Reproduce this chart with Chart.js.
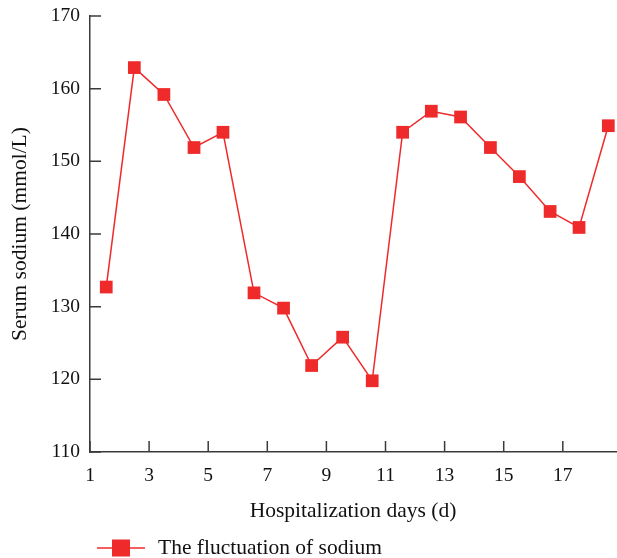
<!DOCTYPE html>
<html>
<head>
<meta charset="utf-8">
<script src="https://cdn.jsdelivr.net/npm/chart.js@4"></script>
<style>
  html, body { margin: 0; padding: 0; background: #fff; }
  #wrap { width: 617px; height: 558px; }
</style>
</head>
<body>
<div id="wrap"><canvas id="chart1"></canvas></div>
<script>
// hospitalization day positions and serum sodium readings
const days = [1.55, 2.5, 3.5, 4.52, 5.5, 6.55, 7.55, 8.5, 9.55, 10.55, 11.58, 12.55, 13.54, 14.55, 15.53, 16.57, 17.55, 18.54];
const sodium = [132.7, 162.9, 159.2, 151.9, 154, 131.9, 129.8, 121.9, 125.8, 119.8, 154, 156.9, 156.1, 151.9, 147.9, 143.1, 140.9, 154.9];
const xTicks = [1, 3, 5, 7, 9, 11, 13, 15, 17];
const yTicks = [110, 120, 130, 140, 150, 160, 170];

const seriesLabel = 'The fluctuation of sodium';
const red = '#ee2a2a';
const axisColor = '#3a3a3a';
const serif = "'Liberation Serif', 'DejaVu Serif', serif";

// ticks drawn inward from the axis lines
const innerTicks = {
    id: 'innerTicks',
    afterDatasetsDraw(chart) {
        const ctx = chart.ctx;
        const xs = chart.scales.x;
        const ys = chart.scales.y;
        ctx.save();
        ctx.strokeStyle = axisColor;
        ctx.lineWidth = 1.5;
        ctx.beginPath();
        xs.ticks.forEach(t => {
            const px = xs.getPixelForValue(t.value);
            ctx.moveTo(px, xs.top);
            ctx.lineTo(px, xs.top - 11);
        });
        ys.ticks.forEach(t => {
            const py = ys.getPixelForValue(t.value);
            ctx.moveTo(ys.right, py);
            ctx.lineTo(ys.right + 11, py);
        });
        ctx.stroke();
        ctx.restore();
    }
};

// legend: line with square marker, bottom left
const lineLegend = {
    id: 'lineLegend',
    afterDraw(chart) {
        const ctx = chart.ctx;
        const y = 548;
        ctx.save();
        ctx.strokeStyle = red;
        ctx.lineWidth = 1.5;
        ctx.beginPath();
        ctx.moveTo(97, y);
        ctx.lineTo(145, y);
        ctx.stroke();
        ctx.fillStyle = red;
        ctx.fillRect(112, y - 8.5, 18, 17);
        ctx.fillStyle = '#111';
        ctx.font = '21.5px ' + serif;
        ctx.textBaseline = 'middle';
        ctx.fillText(seriesLabel, 158, y);
        ctx.restore();
    }
};

const ctx = document.getElementById('chart1').getContext('2d');
new Chart(ctx, {
    type: 'scatter',
    data: {
        datasets: [{
            label: seriesLabel,
            data: days.map((d, i) => ({ x: d, y: sodium[i] })),
            showLine: true,
            borderColor: red,
            borderWidth: 1.5,
            backgroundColor: red,
            pointStyle: 'rect',
            pointRadius: 9,
            pointHoverRadius: 9,
            pointBorderWidth: 0,
            clip: false
        }]
    },
    options: {
        responsive: true,
        maintainAspectRatio: false,
        animation: false,
        layout: { autoPadding: false, padding: { top: 16, right: 1, bottom: 30, left: 0 } },
        plugins: {
            legend: { display: false },
            tooltip: { enabled: false }
        },
        scales: {
            x: {
                type: 'linear',
                min: 1,
                max: 18.8,
                afterBuildTicks: scale => { scale.ticks = xTicks.map(v => ({ value: v })); },
                afterFit: scale => {
                    scale.height = 76;
                    scale.paddingLeft = 0;
                    scale.paddingRight = 0;
                },
                grid: { display: false, drawTicks: false },
                border: { display: true, color: axisColor, width: 1.5 },
                ticks: { color: '#111', padding: 12, maxRotation: 0, font: { family: serif, size: 19.5 } },
                title: {
                    display: true,
                    text: 'Hospitalization days (d)',
                    color: '#111',
                    font: { family: serif, size: 21.5 },
                    padding: { top: 4, bottom: 4 }
                }
            },
            y: {
                min: 110,
                max: 170,
                afterBuildTicks: scale => { scale.ticks = yTicks.map(v => ({ value: v })); },
                afterFit: scale => {
                    scale.width = 90;
                    scale.paddingTop = 0;
                    scale.paddingBottom = 0;
                },
                grid: { display: false, drawTicks: false },
                border: { display: true, color: axisColor, width: 1.5 },
                ticks: { color: '#111', padding: 10, font: { family: serif, size: 19.5 } },
                title: {
                    display: true,
                    text: 'Serum sodium (mmol/L)',
                    color: '#111',
                    font: { family: serif, size: 21.5 },
                    padding: { top: 7, bottom: 7 }
                }
            }
        }
    },
    plugins: [innerTicks, lineLegend]
});
</script>
</body>
</html>
